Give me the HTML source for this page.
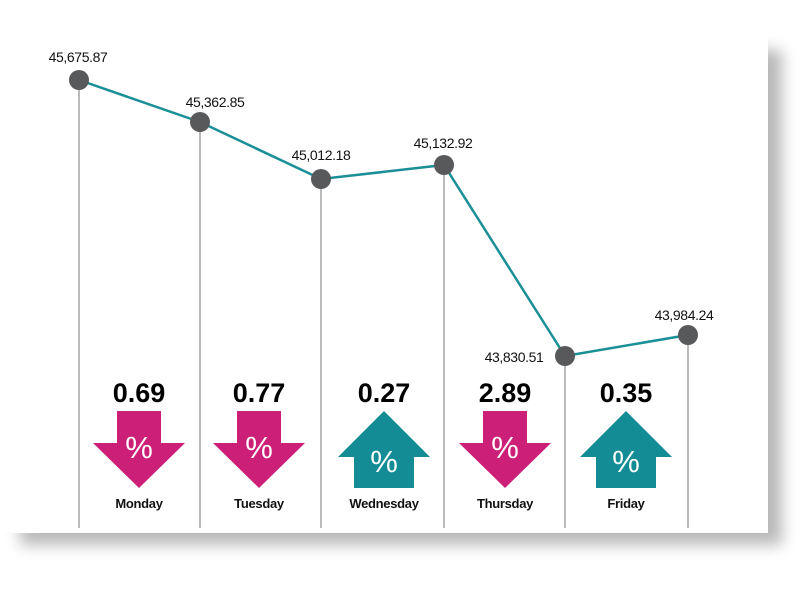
<!DOCTYPE html>
<html><head><meta charset="utf-8"><style>
html,body{margin:0;padding:0;background:#fff;}
.card{position:absolute;left:6px;top:38px;width:762px;height:495px;background:#fff;box-shadow:14px 12px 14px rgba(0,0,0,0.28);}
svg{position:absolute;left:0;top:0;}
text{font-family:"Liberation Sans",sans-serif;}
</style></head><body>
<div class="card"></div>
<svg width="800" height="600" viewBox="0 0 800 600">
<rect x="0" y="0" width="768" height="533" fill="#fff"/>
<g stroke="#777" stroke-width="1">
<line x1="79" y1="80" x2="79" y2="528"/><line x1="200" y1="122" x2="200" y2="528"/>
<line x1="321" y1="179" x2="321" y2="528"/><line x1="444" y1="165" x2="444" y2="528"/>
<line x1="565" y1="356" x2="565" y2="528"/><line x1="688" y1="335" x2="688" y2="528"/>
</g>
<polyline points="79,80 200,122 321,179 444,165 565,356 688,335" fill="none" stroke="#1b8f97" stroke-width="2.5"/>
<g fill="#58595b">
<circle cx="79" cy="80" r="10"/><circle cx="200" cy="122" r="10"/><circle cx="321" cy="179" r="10"/>
<circle cx="444" cy="165" r="10"/><circle cx="565" cy="356" r="10"/><circle cx="688" cy="335" r="10"/>
</g>
<g font-size="14" fill="#111" text-anchor="middle" letter-spacing="-0.4">
<text x="78" y="62">45,675.87</text><text x="215" y="107">45,362.85</text>
<text x="321" y="160">45,012.18</text><text x="443" y="148">45,132.92</text>
<text x="514" y="362">43,830.51</text><text x="684" y="320">43,984.24</text>
</g>
<g font-size="27" font-weight="bold" fill="#000" text-anchor="middle">
<text x="139" y="402">0.69</text><text x="259" y="402">0.77</text><text x="384" y="402">0.27</text>
<text x="505" y="402">2.89</text><text x="626" y="402">0.35</text>
</g>
<g fill="#cc1f78">
<polygon points="117,411 161,411 161,443 185,443 139,488 93,443 117,443"/>
<polygon points="237,411 281,411 281,443 305,443 259,488 213,443 237,443"/>
<polygon points="483,411 527,411 527,443 551,443 505,488 459,443 483,443"/>
</g>
<g fill="#148c96">
<polygon points="384,411 430,457 414,457 414,488 354,488 354,457 338,457"/>
<polygon points="626,411 672,457 656,457 656,488 596,488 596,457 580,457"/>
</g>
<g font-size="31" fill="#fff" text-anchor="middle">
<text x="139" y="458">%</text><text x="259" y="458">%</text><text x="505" y="458">%</text>
<text x="384" y="472">%</text><text x="626" y="472">%</text>
</g>
<g font-size="13" font-weight="bold" fill="#111" text-anchor="middle" letter-spacing="-0.3">
<text x="139" y="508">Monday</text><text x="259" y="508">Tuesday</text><text x="384" y="508">Wednesday</text>
<text x="505" y="508">Thursday</text><text x="626" y="508">Friday</text>
</g>
</svg>
</body></html>
